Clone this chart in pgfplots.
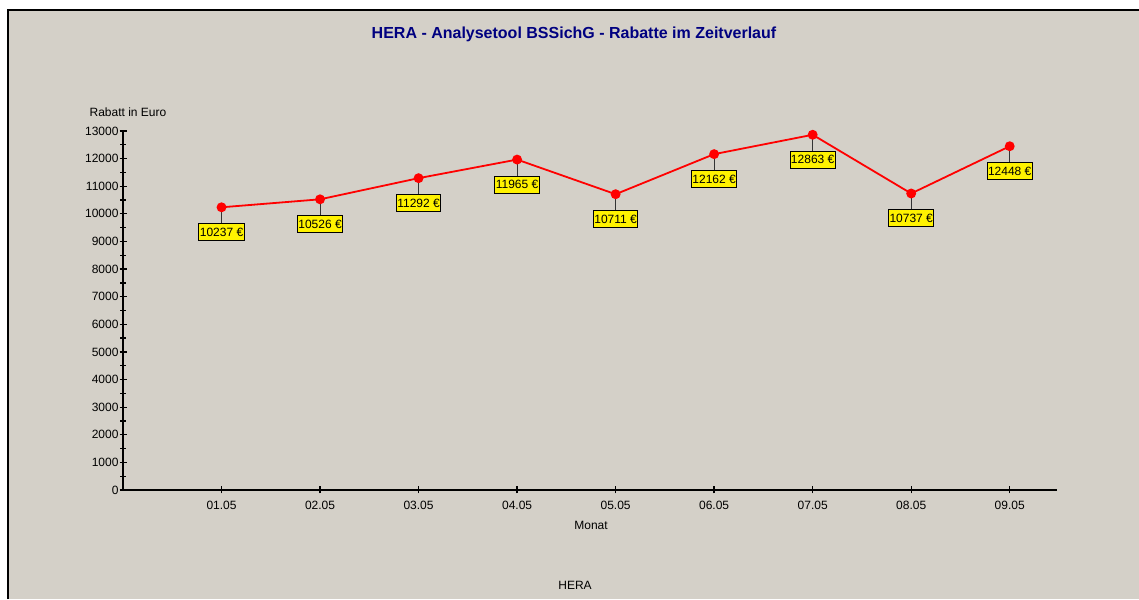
\documentclass[border=0pt]{standalone}
\usepackage{pgfplots}
\pgfplotsset{compat=1.18}
\usepackage{fontspec}
\setmainfont{Liberation Sans}
\definecolor{panel}{HTML}{D4D0C8}
\definecolor{titleblue}{HTML}{000080}
\pgfdeclareplotmark{conn}{\pgfpathmoveto{\pgfpointorigin}\pgfpathlineto{\pgfpoint{0pt}{-16pt}}\pgfusepathqstroke}
\begin{document}
\begin{tikzpicture}[x=1pt,y=1pt]
\useasboundingbox (0,0) rectangle (1139,599);
\fill[white] (0,0) rectangle (1139,599);
\fill[panel] (8,0) rectangle (1139,589);
\draw[line width=2.5pt] (8,0) -- (8,589) -- (1139,589);
\node[font=\bfseries\fontsize{16}{19}\selectfont, text=titleblue] at (574,565) {HERA - Analysetool BSSichG - Rabatte im Zeitverlauf};
\node[font=\fontsize{12}{14}\selectfont] at (128,487) {Rabatt in Euro};
\node[font=\fontsize{12}{14}\selectfont] at (591,74) {Monat};
\node[font=\fontsize{12}{14}\selectfont] at (575,14) {HERA};
\begin{axis}[
  at={(123pt,109pt)}, anchor=south west,
  scale only axis, width=934pt, height=359pt,
  xmin=0, xmax=9.48, ymin=0, ymax=13000,
  axis lines=left,
  axis line style={-, line width=1.6pt, black},
  xtick={1,2,3,4,5,6,7,8,9},
  xticklabels={01.05,02.05,03.05,04.05,05.05,06.05,07.05,08.05,09.05},
  ytick={0,1000,...,13000},
  minor y tick num=1,
  tick align=center,
  major tick length=7pt, minor tick length=6pt,
  tick style={line width=1.3pt, black},
  scaled y ticks=false,
  /pgf/number format/assume math mode=true,
  yticklabel style={xshift=2.5pt, /pgf/number format/.cd, fixed, precision=0, set thousands separator={}},
  xticklabel style={yshift=-4pt},
  tick label style={font=\fontsize{12}{14}\selectfont},
  clip=false,
]
\addplot[only marks, mark=conn, mark options={line width=0.8pt, black!80}, forget plot]
  coordinates {(1,10237)(2,10526)(3,11292)(4,11965)(5,10711)(6,12162)(7,12863)(8,10737)(9,12448)};
\addplot[red, line width=1.8pt, mark=*, mark size=4pt, mark options={red},
  nodes near coords={\pgfmathprintnumber[fixed,precision=0,set thousands separator={}]{\pgfplotspointmeta} €},
  every node near coord/.append style={anchor=north, yshift=-16pt, fill=yellow, draw=black, line width=0.8pt, text=black,
     font=\fontsize{12}{14}\selectfont, inner xsep=1pt, inner ysep=0pt, minimum height=17pt}]
  coordinates {(1,10237)(2,10526)(3,11292)(4,11965)(5,10711)(6,12162)(7,12863)(8,10737)(9,12448)};
\end{axis}
\end{tikzpicture}
\end{document}
